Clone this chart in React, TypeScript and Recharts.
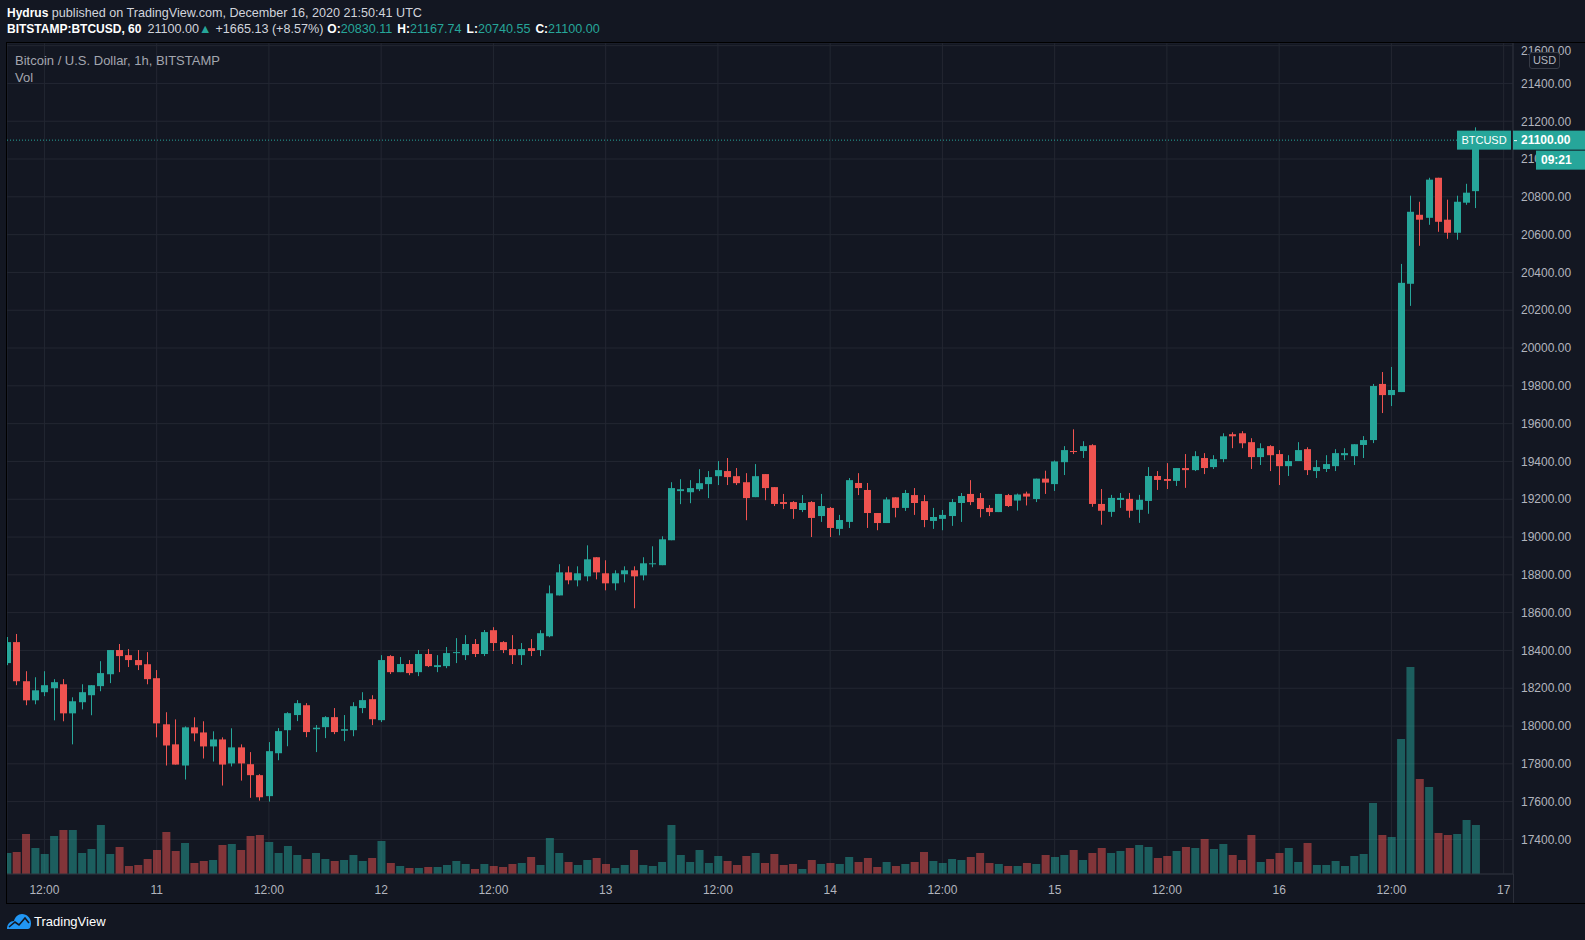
import React from 'react'
import { ComposedChart, Bar, XAxis, YAxis, CartesianGrid, ReferenceLine, Cell } from 'recharts'

const UP = '#26a69a'
const DOWN = '#ef5350'
const BG = '#131722'
const GRID = '#232732'
const TEXT = '#b2b5be'
const FONT = '"Liberation Sans", Arial, sans-serif'

// hourly candles, Dec 10 08:00 -> Dec 16 21:00 UTC (index = hour)
const opens = [
  18333, 18444, 18237, 18136, 18179, 18200, 18221, 18067, 18126, 18163,
  18211, 18274, 18402, 18375, 18349, 18327, 18253, 18009, 17903, 17791,
  17993, 17966, 17892, 17929, 17802, 17887, 17798, 17740, 17629, 17856,
  17978, 18058, 18110, 17983, 17994, 18047, 17975, 17978, 18095, 18142,
  18031, 18370, 18285, 18328, 18285, 18381, 18312, 18317, 18386, 18375,
  18434, 18381, 18507, 18444, 18407, 18375, 18412, 18402, 18475, 18691,
  18813, 18771, 18792, 18893, 18808, 18755, 18803, 18824, 18797, 18856,
  18851, 18983, 19243, 19237, 19253, 19280, 19322, 19349, 19322, 19290,
  19211, 19333, 19264, 19185, 19185, 19143, 19185, 19111, 19154, 19043,
  19080, 19286, 19249, 19127, 19074, 19210, 19154, 19222, 19190, 19085,
  19096, 19111, 19180, 19228, 19206, 19154, 19132, 19222, 19193, 19230,
  19201, 19309, 19280, 19396, 19455, 19455, 19486, 19175, 19133, 19196,
  19202, 19144, 19191, 19323, 19307, 19297, 19365, 19354, 19418, 19370,
  19412, 19544, 19549, 19502, 19423, 19481, 19439, 19375, 19402, 19465,
  19349, 19360, 19375, 19433, 19428, 19487, 19513, 19810, 19751, 19767,
  20340, 20705, 20689, 20901, 20679, 20610, 20769, 20830.11,
]
const highs = [
  18471, 18487, 18290, 18258, 18290, 18248, 18248, 18152, 18221, 18216,
  18343, 18402, 18434, 18407, 18402, 18391, 18296, 18073, 18035, 17998,
  18046, 18025, 17972, 17940, 17988, 17903, 17862, 17745, 17915, 17989,
  18073, 18137, 18121, 18005, 18052, 18095, 18058, 18126, 18179, 18163,
  18375, 18375, 18365, 18349, 18402, 18407, 18375, 18418, 18465, 18481,
  18460, 18508, 18523, 18449, 18481, 18439, 18460, 18507, 18744, 18856,
  18845, 18845, 18956, 18893, 18877, 18824, 18845, 18845, 18893, 18951,
  19004, 19290, 19306, 19301, 19359, 19349, 19402, 19418, 19365, 19338,
  19386, 19333, 19264, 19228, 19190, 19222, 19190, 19228, 19159, 19117,
  19312, 19338, 19286, 19127, 19210, 19210, 19249, 19259, 19222, 19154,
  19143, 19201, 19233, 19301, 19233, 19169, 19228, 19228, 19230, 19240,
  19309, 19351, 19405, 19481, 19570, 19507, 19491, 19254, 19223, 19233,
  19233, 19223, 19370, 19349, 19391, 19365, 19439, 19454, 19444, 19433,
  19549, 19554, 19560, 19523, 19496, 19486, 19460, 19433, 19502, 19475,
  19407, 19433, 19465, 19470, 19491, 19534, 19810, 19873, 19900, 20445,
  20806, 20774, 20901, 20901, 20785, 20806, 20869, 21167.74,
]
const lows = [
  18322, 18216, 18110, 18115, 18158, 18030, 18025, 17903, 18088, 18057,
  18184, 18227, 18285, 18312, 18296, 18221, 17940, 17791, 17796, 17717,
  17919, 17828, 17812, 17685, 17786, 17711, 17620, 17605, 17600, 17819,
  17893, 18026, 17941, 17862, 17936, 17957, 17920, 17946, 18068, 18005,
  18021, 18275, 18285, 18269, 18264, 18312, 18285, 18306, 18333, 18349,
  18365, 18370, 18397, 18386, 18328, 18323, 18370, 18370, 18470, 18691,
  18750, 18739, 18766, 18776, 18718, 18718, 18760, 18623, 18771, 18840,
  18851, 18983, 19174, 19179, 19243, 19206, 19275, 19275, 19275, 19089,
  19211, 19195, 19164, 19148, 19096, 19132, 19000, 19080, 19000, 19009,
  19048, 19222, 19048, 19036, 19074, 19104, 19138, 19117, 19052, 19043,
  19036, 19059, 19080, 19169, 19104, 19111, 19132, 19159, 19140, 19167,
  19185, 19228, 19244, 19328, 19439, 19418, 19160, 19065, 19107, 19154,
  19102, 19075, 19123, 19249, 19254, 19270, 19260, 19349, 19333, 19360,
  19396, 19470, 19470, 19360, 19381, 19349, 19275, 19323, 19402, 19328,
  19312, 19344, 19349, 19407, 19381, 19418, 19497, 19656, 19693, 19767,
  20223, 20541, 20652, 20615, 20578, 20573, 20758, 20740.55,
]
const closes = [
  18444, 18237, 18136, 18189, 18216, 18232, 18067, 18131, 18179, 18216,
  18280, 18402, 18370, 18349, 18322, 18248, 18014, 17897, 17796, 17993,
  17961, 17892, 17929, 17796, 17887, 17802, 17740, 17623, 17867, 17973,
  18068, 18121, 17968, 17991, 18047, 17968, 17983, 18105, 18137, 18036,
  18349, 18285, 18328, 18280, 18381, 18317, 18322, 18386, 18391, 18434,
  18381, 18497, 18439, 18402, 18375, 18407, 18397, 18491, 18702, 18813,
  18771, 18808, 18882, 18813, 18755, 18808, 18824, 18792, 18861, 18861,
  18988, 19259, 19253, 19259, 19285, 19317, 19354, 19317, 19285, 19206,
  19322, 19259, 19175, 19175, 19148, 19180, 19101, 19164, 19048, 19090,
  19301, 19259, 19127, 19074, 19199, 19154, 19233, 19180, 19090, 19106,
  19117, 19185, 19217, 19185, 19148, 19132, 19228, 19164, 19225, 19214,
  19309, 19288, 19400, 19460, 19450, 19481, 19175, 19139, 19207, 19207,
  19139, 19197, 19323, 19302, 19297, 19365, 19354, 19428, 19365, 19412,
  19533, 19533, 19496, 19423, 19470, 19433, 19375, 19402, 19460, 19354,
  19370, 19386, 19444, 19444, 19491, 19513, 19799, 19751, 19778, 20345,
  20721, 20679, 20891, 20668, 20610, 20774, 20822, 21100,
]
// volume in BTC (estimated)
const volumes = [
  420, 440, 800, 520, 400, 760, 880, 880, 420, 500,
  980, 400, 540, 160, 180, 300, 480, 840, 460, 620,
  220, 260, 280, 580, 600, 480, 760, 780, 640, 420,
  560, 380, 300, 420, 300, 260, 280, 380, 260, 320,
  660, 220, 160, 120, 120, 140, 140, 180, 260, 200,
  100, 200, 160, 140, 200, 220, 340, 180, 720, 420,
  240, 180, 280, 320, 200, 120, 180, 480, 180, 160,
  240, 980, 380, 240, 480, 220, 360, 260, 180, 360,
  420, 220, 400, 180, 200, 100, 280, 200, 220, 200,
  340, 240, 320, 140, 240, 160, 200, 240, 440, 260,
  220, 300, 280, 340, 420, 220, 200, 160, 160, 220,
  200, 380, 340, 380, 480, 280, 420, 520, 420, 460,
  520, 580, 540, 320, 360, 460, 540, 520, 700, 500,
  600, 380, 280, 780, 240, 300, 420, 520, 240, 620,
  180, 180, 260, 160, 360, 400, 1420, 780, 740, 2700,
  4140, 1900, 1740, 820, 780, 800, 1080, 980,
]

const timeTicks = [4, 16, 28, 40, 52, 64, 76, 88, 100, 112, 124, 136, 148, 160]
const timeLabels = ['12:00', '11', '12:00', '12', '12:00', '13', '12:00', '14', '12:00', '15', '12:00', '16', '12:00', '17']
const priceTicks = [
  17400, 17600, 17800, 18000, 18200, 18400, 18600, 18800, 19000, 19200, 19400,
  19600, 19800, 20000, 20200, 20400, 20600, 20800, 21000, 21200, 21400, 21600,
]
const priceDomain = [17217, 21614]
const timeDomain = [0, 161]
const lastPrice = 21100
const countdown = '09:21'

const candles = opens.map((o, i) => ({
  i,
  o,
  h: highs[i],
  l: lows[i],
  c: closes[i],
  v: volumes[i],
}))

const Candle = (props: any) => {
  const { x, y, width, height, payload } = props
  const { o, h, l, c } = payload
  const color = c >= o ? UP : DOWN
  const top = Math.min(y, y + height)
  const hh = Math.abs(height)
  const k = h > l ? hh / (h - l) : 0
  const bTop = top + (h - Math.max(o, c)) * k
  const bBot = top + (h - Math.min(o, c)) * k
  const cx = Math.round(x + width / 2) + 0.5
  return (
    <g>
      <line x1={cx} x2={cx} y1={top} y2={top + hh} stroke={color} strokeWidth={1} />
      <rect x={cx - 3.5} y={bTop} width={7} height={Math.max(1, bBot - bTop)} fill={color} />
    </g>
  )
}

const LastPriceTag = (props: any) => {
  const vb = props.viewBox || {}
  const right = vb.x + vb.width
  const y = vb.y
  return (
    <g>
      <rect x={right - 56} y={y - 9.5} width={54} height={19} fill={UP} />
      <text x={right - 29} y={y} dy="0.36em" textAnchor="middle" fill="#fff" fontSize={11}>
        BTCUSD
      </text>
      <rect x={right} y={y - 9.5} width={80} height={19} fill={UP} />
      <line x1={right + 1} x2={right + 4} y1={y + 0.5} y2={y + 0.5} stroke="#fff" />
      <text x={right + 8} y={y} dy="0.36em" fill="#fff" fontSize={12} fontWeight="bold">
        {lastPrice.toFixed(2)}
      </text>
      <rect x={right + 23} y={y + 10.5} width={60} height={19} fill={UP} />
      <text x={right + 28} y={y + 20} dy="0.36em" fill="#fff" fontSize={12} fontWeight="bold">
        {countdown}
      </text>
    </g>
  )
}

const teal = { color: UP }
const bold = { color: '#fff', fontSize: 12 }

export default function App() {
  return (
    <div
      style={{
        position: 'absolute',
        left: 0,
        top: 0,
        width: 1585,
        height: 940,
        background: BG,
        fontFamily: FONT,
        overflow: 'hidden',
      }}
    >
      <div
        style={{
          position: 'absolute',
          left: 6,
          top: 42,
          width: 1600,
          height: 862,
          border: '1px solid #000',
          boxSizing: 'border-box',
        }}
      >
        <ComposedChart
          width={1578}
          height={860}
          data={candles}
          margin={{ top: 0, right: 0, bottom: 0, left: 0 }}
        >
          <CartesianGrid xAxisId="c" yAxisId="p" stroke={GRID} />
          <XAxis
            xAxisId="c"
            dataKey="i"
            type="number"
            domain={timeDomain}
            ticks={timeTicks}
            allowDataOverflow
            tickFormatter={(v) => timeLabels[timeTicks.indexOf(v)]}
            tick={{ fill: TEXT, fontSize: 12 }}
            tickLine={false}
            tickSize={0}
            tickMargin={11}
            axisLine={{ stroke: '#2a2e39' }}
            height={29}
          />
          <XAxis xAxisId="v" dataKey="i" type="number" domain={timeDomain} allowDataOverflow hide />
          <YAxis
            yAxisId="p"
            orientation="right"
            type="number"
            domain={priceDomain}
            ticks={priceTicks}
            allowDataOverflow
            tickFormatter={(v) => v.toFixed(2)}
            tick={{ fill: TEXT, fontSize: 12 }}
            tickLine={false}
            tickSize={0}
            tickMargin={8}
            axisLine={{ stroke: '#2a2e39' }}
            width={72}
          />
          <YAxis yAxisId="vol" type="number" domain={[0, 16620]} allowDataOverflow hide />
          <Bar xAxisId="v" yAxisId="vol" dataKey="v" barSize={8} isAnimationActive={false}>
            {candles.map((d, i) => (
              <Cell key={i} fill={d.c >= d.o ? UP : DOWN} fillOpacity={0.5} />
            ))}
          </Bar>
          <Bar
            xAxisId="c"
            yAxisId="p"
            dataKey={(d: any) => [d.l, d.h]}
            barSize={7}
            shape={Candle}
            isAnimationActive={false}
          />
        </ComposedChart>

        {/* same scales again, on top, so the last-price tags cover the axis labels */}
        <div style={{ position: 'absolute', left: 0, top: 0 }}>
          <ComposedChart
            width={1578}
            height={860}
            data={candles}
            margin={{ top: 0, right: 72, bottom: 29, left: 0 }}
          >
            <XAxis xAxisId="c" dataKey="i" type="number" domain={timeDomain} allowDataOverflow hide />
            <YAxis yAxisId="p" type="number" domain={priceDomain} allowDataOverflow hide />
            <ReferenceLine
              xAxisId="c"
              yAxisId="p"
              y={lastPrice}
              stroke={UP}
              strokeDasharray="1 2"
              label={<LastPriceTag />}
            />
          </ComposedChart>
        </div>
        <div style={{ position: 'absolute', left: 1506, top: 831, width: 1, height: 29, background: '#2a2e39' }} />
      </div>

      <div style={{ position: 'absolute', left: 0, top: 0, width: 1585, height: 42, background: BG }} />
      <div style={{ position: 'absolute', left: 7, top: 5, fontSize: 12.6, lineHeight: '16px', color: '#d1d4dc', whiteSpace: 'nowrap' }}>
        <b style={bold}>Hydrus</b> published on TradingView.com, December 16, 2020 21:50:41 UTC
      </div>
      <div style={{ position: 'absolute', left: 7, top: 21, fontSize: 12.6, lineHeight: '16px', color: '#d1d4dc', whiteSpace: 'nowrap' }}>
        <b style={bold}>BITSTAMP:BTCUSD, 60</b>
        <span style={{ marginLeft: 6 }}>21100.00</span>
        <span style={teal}>▲</span>
        <span style={{ marginLeft: 4 }}>+1665.13 (+8.57%)</span>
        <b style={{ ...bold, marginLeft: 4 }}>O:</b>
        <span style={teal}>20830.11</span>
        <b style={{ ...bold, marginLeft: 5 }}>H:</b>
        <span style={teal}>21167.74</span>
        <b style={{ ...bold, marginLeft: 5 }}>L:</b>
        <span style={teal}>20740.55</span>
        <b style={{ ...bold, marginLeft: 5 }}>C:</b>
        <span style={teal}>21100.00</span>
      </div>

      <div style={{ position: 'absolute', left: 15, top: 53, fontSize: 13, lineHeight: '16px', color: '#a3a6af' }}>
        Bitcoin / U.S. Dollar, 1h, BITSTAMP
      </div>
      <div style={{ position: 'absolute', left: 15, top: 70, fontSize: 13, lineHeight: '16px', color: '#a3a6af' }}>Vol</div>
      <div
        style={{
          position: 'absolute',
          left: 1529,
          top: 52,
          width: 31,
          height: 17,
          border: '1px solid #363a45',
          borderRadius: 3,
          boxSizing: 'border-box',
          background: BG,
          color: TEXT,
          fontSize: 11,
          lineHeight: '15px',
          textAlign: 'center',
        }}
      >
        USD
      </div>

      <div style={{ position: 'absolute', left: 6, top: 912, display: 'flex', alignItems: 'center' }}>
        <svg width={26} height={18} viewBox="0 0 26 18">
          <path d="M1 17 C1 12 4 9 8 9 C9 5 12 2 16 2 C21 2 25 6 25 11 C25 14 24 17 22 17 Z" fill="#2196f3" />
          <path d="M3 15 L9 10 L13 13 L19 6 L23 11" fill="none" stroke={BG} strokeWidth={1.6} />
        </svg>
        <span style={{ marginLeft: 2, color: '#fff', fontSize: 13 }}>TradingView</span>
      </div>
    </div>
  )
}
